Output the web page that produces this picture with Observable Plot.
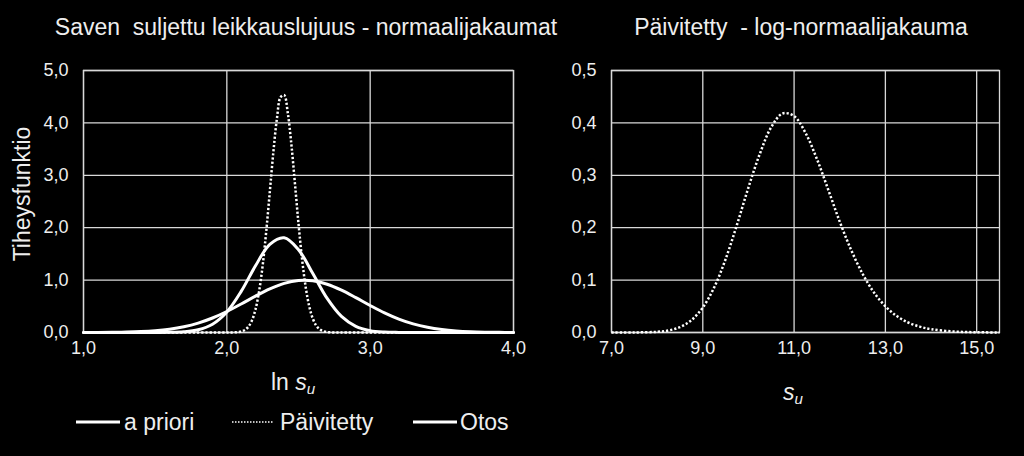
<!DOCTYPE html>
<html>
<head>
<meta charset="utf-8">
<script src="https://cdn.jsdelivr.net/npm/d3@7"></script>
<script src="https://cdn.jsdelivr.net/npm/@observablehq/plot@0.6"></script>
<style>
  html, body { margin: 0; padding: 0; background: #000; }
  body { width: 1024px; height: 456px; position: relative; overflow: hidden;
         font-family: "Liberation Sans", Arial, sans-serif; color: #eeeeee; }
  .abs { position: absolute; line-height: 1; white-space: pre; }
  .big { font-size: 23px; }
  .ctr { transform: translateX(-50%); }
  sub { font-size: 0.66em; vertical-align: -0.28em; line-height: 0; }
  #left, #right { position: absolute; top: 50px; }
  #left { left: 0; } #right { left: 530px; }
</style>
</head>
<body>
<div class="abs big ctr" style="left:306px; top:15.5px;">Saven  suljettu leikkauslujuus - normaalijakaumat</div>
<div class="abs big ctr" style="left:801px; top:16px;">Päivitetty  - log-normaalijakauma</div>
<div class="abs big" style="left:22px; top:194px; transform: translate(-50%,-50%) rotate(-90deg);">Tiheysfunktio</div>
<div class="abs big ctr" style="left:293px; top:370.5px;">ln <i>s</i><sub><i>u</i></sub></div>
<div class="abs big ctr" style="left:793px; top:380.5px;"><i>s</i><sub><i>u</i></sub></div>
<div id="left"></div>
<div id="right"></div>
<div id="legend"></div>
<script>
// ---- data ----
const lnSuX = [1.0,1.1,1.2,1.3,1.4,1.5,1.6,1.7,1.8,1.9,2.0,2.1,2.2,2.3,2.4,2.5,2.6,2.7,2.8,2.9,3.0,3.1,3.2,3.3,3.4,3.5,3.6,3.7,3.8,3.9,4.0];
const aPriori = [0.001,0.002,0.004,0.008,0.017,0.034,0.063,0.110,0.180,0.277,0.401,0.544,0.695,0.833,0.938,0.992,0.986,0.920,0.807,0.665,0.515,0.374,0.256,0.164,0.099,0.056,0.030,0.015,0.007,0.003,0.001];
const otos = [0,0,0,0,0,0.001,0.003,0.014,0.053,0.159,0.392,0.784,1.273,1.683,1.809,1.581,1.125,0.650,0.306,0.117,0.036,0.009,0.002,0,0,0,0,0,0,0,0];
const paivX = [1.0,2.000,2.025,2.050,2.075,2.100,2.125,2.150,2.175,2.200,2.225,2.250,2.275,2.300,2.325,2.350,2.375,2.400,2.425,2.450,2.475,2.500,2.525,2.550,2.575,2.600,2.625,2.650,2.675,2.700,2.725,2.750,2.800,4.0];
const paivitetty = [0,0.000,0.001,0.003,0.008,0.020,0.049,0.110,0.229,0.441,0.783,1.280,1.933,2.691,3.455,4.095,4.49,4.53,4.195,3.598,2.848,2.079,1.399,0.869,0.498,0.263,0.128,0.058,0.024,0.009,0.003,0.001,0,0];
const suX = [7,7.5,8,8.25,8.5,8.75,9,9.25,9.5,9.75,10,10.25,10.5,10.75,11,11.25,11.5,11.75,12,12.25,12.5,12.75,13,13.25,13.5,13.75,14,14.5,15,15.5];
const logNormaali = [0,0.0001,0.0013,0.0039,0.0102,0.0235,0.0477,0.0862,0.1401,0.2061,0.2767,0.3411,0.392,0.418,0.413,0.381,0.331,0.272,0.2115,0.1576,0.1121,0.0764,0.0500,0.0314,0.0191,0.0112,0.0064,0.0019,0.0005,0.0001];
const leftXTicks = [1,2,3,4];
const leftYTicks = [0,1,2,3,4,5];
const rightXTicks = [7,9,11,13,15];
const rightYTicks = [0,0.1,0.2,0.3,0.4,0.5];
const legendLabels = ["a priori","Päivitetty","Otos"];

const fmt = d => d.toFixed(1).replace(".", ",");
const rows = (xs, ys) => xs.map((x, i) => ({x, y: ys[i]}));
const GRID = "#d9d9d9";
const style = {background: "transparent", color: "#eeeeee", fontSize: "18px",
               fontFamily: '"Liberation Sans", Arial, sans-serif', overflow: "visible"};
const solid = {x: "x", y: "y", stroke: "white", strokeWidth: 3, curve: "catmull-rom"};
const dotted = {x: "x", y: "y", stroke: "white", strokeWidth: 2.5, strokeDasharray: "2.2,2",
                strokeLinecap: "butt", strokeLinejoin: "miter", curve: "catmull-rom"};

const left = Plot.plot({
  width: 530, height: 340, marginLeft: 83, marginRight: 17, marginTop: 20, marginBottom: 58,
  style,
  x: {domain: [1, 4]},
  y: {domain: [0, 5]},
  marks: [
    Plot.gridX(leftXTicks, {stroke: GRID, strokeOpacity: 1, strokeWidth: 1.3}),
    Plot.gridY(leftYTicks, {stroke: GRID, strokeOpacity: 1, strokeWidth: 1.3}),
    Plot.frame({stroke: GRID, strokeWidth: 1.3}),
    Plot.axisX(leftXTicks, {tickSize: 0, tickPadding: 9, tickFormat: fmt, label: null, fontSize: 18}),
    Plot.axisY(leftYTicks, {tickSize: 0, tickPadding: 15, tickFormat: fmt, label: null, fontSize: 18}),
    Plot.line(rows(lnSuX, aPriori), solid),
    Plot.line(rows(lnSuX, otos), solid),
    Plot.line(rows(paivX, paivitetty), dotted)
  ]
});
document.getElementById("left").append(left);

const right = Plot.plot({
  width: 490, height: 340, marginLeft: 81, marginRight: 21, marginTop: 20, marginBottom: 58,
  style,
  x: {domain: [7, 15.5]},
  y: {domain: [0, 0.5]},
  marks: [
    Plot.gridX(rightXTicks, {stroke: GRID, strokeOpacity: 1, strokeWidth: 1.3}),
    Plot.gridY(rightYTicks, {stroke: GRID, strokeOpacity: 1, strokeWidth: 1.3}),
    Plot.frame({stroke: GRID, strokeWidth: 1.3}),
    Plot.axisX(rightXTicks, {tickSize: 0, tickPadding: 9, tickFormat: fmt, label: null, fontSize: 18}),
    Plot.axisY(rightYTicks, {tickSize: 0, tickPadding: 15, tickFormat: fmt, label: null, fontSize: 18}),
    Plot.line(rows(suX, logNormaali), dotted)
  ]
});
document.getElementById("right").append(right);

// legend
const legend = document.getElementById("legend");
const items = [
  {x1: 76, x2: 120, tx: 124, dash: null},
  {x1: 232, x2: 273, tx: 280, dash: "1.5,1.5"},
  {x1: 413, x2: 457, tx: 460, dash: null}
];
items.forEach((it, i) => {
  const svg = d3.create("svg").attr("width", it.x2 - it.x1).attr("height", 6)
    .style("position", "absolute").style("left", it.x1 + "px").style("top", "419px");
  svg.append("line").attr("x1", 0).attr("x2", it.x2 - it.x1).attr("y1", 3).attr("y2", 3)
    .attr("stroke", "white").attr("stroke-width", it.dash ? 1.6 : 3)
    .attr("stroke-dasharray", it.dash);
  legend.append(svg.node());
  const t = document.createElement("div");
  t.className = "abs big";
  t.style.left = it.tx + "px"; t.style.top = "410.5px";
  t.textContent = legendLabels[i];
  legend.append(t);
});
</script>
</body>
</html>
